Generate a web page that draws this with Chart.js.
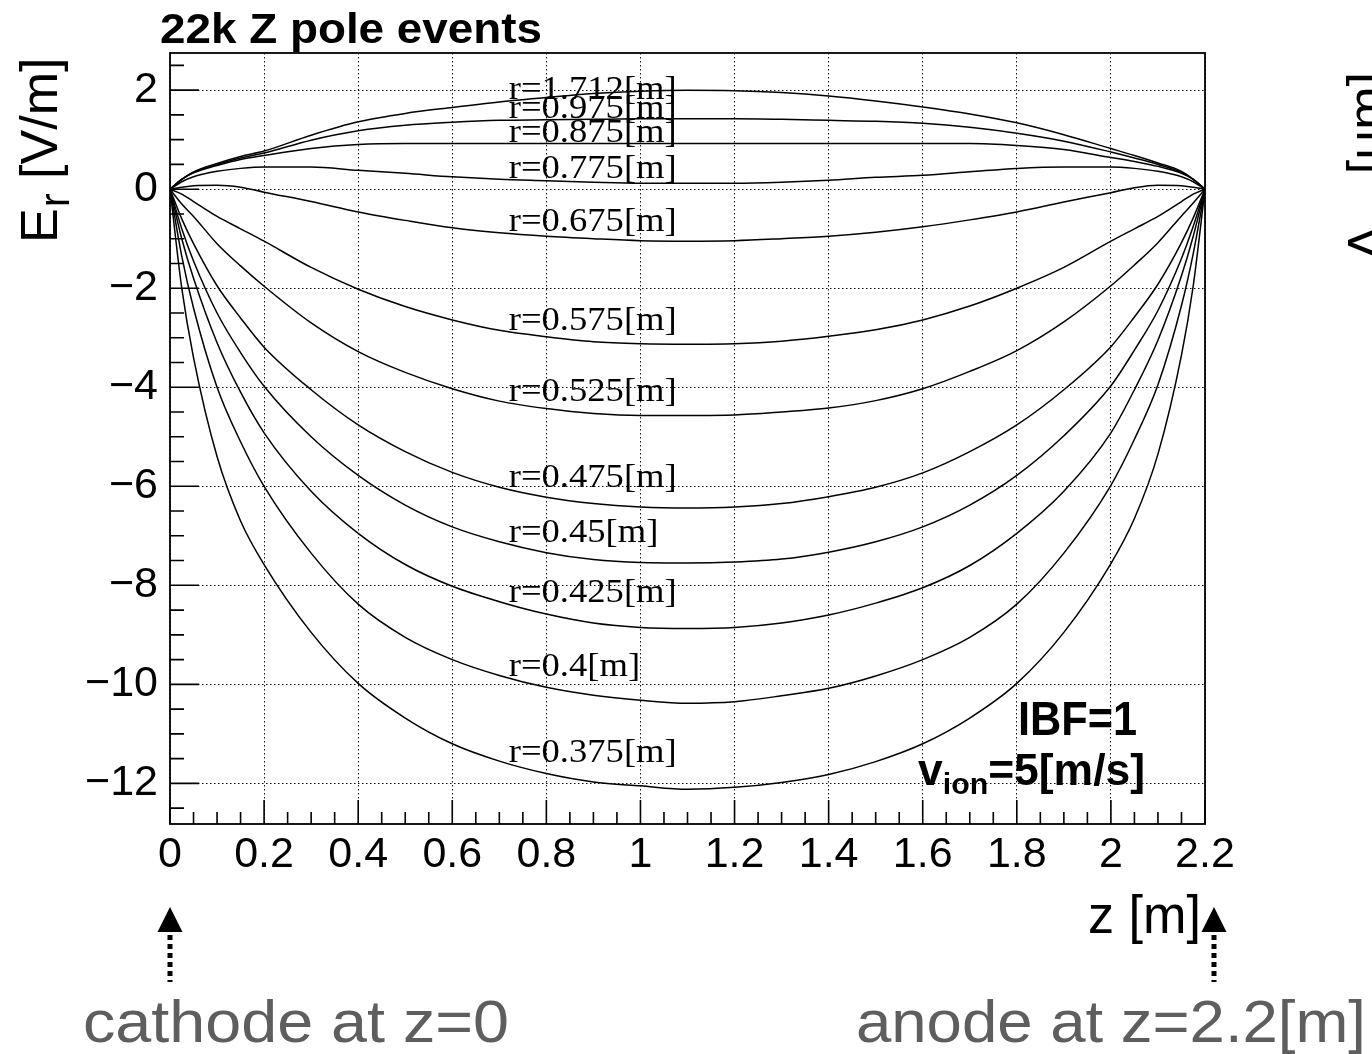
<!DOCTYPE html>
<html><head><meta charset="utf-8">
<script src="https://cdn.jsdelivr.net/npm/chart.js@4.4.0/dist/chart.umd.min.js"></script>
<style>html,body{margin:0;padding:0;background:#fff;} #wrap{width:1372px;height:1054px;position:relative;overflow:hidden;}</style>
</head><body><div id="wrap"><canvas id="c" width="1372" height="1054"></canvas></div>
<script>
// ---- data ----
const zValues = [0,0.025,0.05,0.1,0.15,0.2,0.3,0.4,0.5,0.6,0.7,0.8,0.9,1.0,1.1,1.2,1.3,1.4,1.5,1.6,1.7,1.8,1.9,2.0,2.05,2.1,2.15,2.175,2.2];
const seriesLabels = ['r=1.712[m]','r=0.975[m]','r=0.875[m]','r=0.775[m]','r=0.675[m]','r=0.575[m]','r=0.525[m]','r=0.475[m]','r=0.45[m]','r=0.425[m]','r=0.4[m]','r=0.375[m]'];
const er_r1712 = [0,0.2,0.35,0.52,0.66,0.77,1.09,1.36,1.53,1.65,1.76,1.85,1.93,1.98,2.0,1.99,1.95,1.88,1.78,1.66,1.52,1.34,1.1,0.82,0.68,0.53,0.36,0.2,0];
const er_r0975 = [0,0.2,0.34,0.5,0.63,0.73,0.99,1.18,1.29,1.35,1.39,1.4,1.41,1.42,1.42,1.42,1.41,1.39,1.37,1.33,1.25,1.13,0.97,0.75,0.63,0.5,0.34,0.2,0];
const er_r0875 = [0,0.2,0.33,0.48,0.6,0.68,0.82,0.9,0.92,0.92,0.92,0.92,0.92,0.92,0.92,0.92,0.92,0.92,0.92,0.92,0.92,0.88,0.8,0.64,0.56,0.46,0.32,0.2,0];
const er_r0775 = [0,0.15,0.25,0.36,0.42,0.45,0.45,0.38,0.32,0.25,0.2,0.17,0.14,0.12,0.12,0.12,0.14,0.18,0.24,0.28,0.35,0.42,0.45,0.45,0.42,0.36,0.25,0.15,0];
const er_r0675 = [0,0.04,0.07,0.08,0.04,-0.06,-0.25,-0.46,-0.63,-0.78,-0.88,-0.95,-1.0,-1.04,-1.05,-1.04,-1.0,-0.95,-0.87,-0.76,-0.62,-0.46,-0.26,-0.07,0.03,0.08,0.07,0.04,0];
const er_r0575 = [0,-0.1,-0.25,-0.55,-0.8,-1.05,-1.58,-2.02,-2.37,-2.64,-2.85,-2.98,-3.08,-3.12,-3.13,-3.12,-3.07,-2.97,-2.84,-2.64,-2.36,-2.0,-1.58,-1.05,-0.8,-0.55,-0.25,-0.1,0];
const er_r0525 = [0,-0.3,-0.55,-1.1,-1.55,-1.96,-2.7,-3.28,-3.7,-4.03,-4.28,-4.43,-4.53,-4.57,-4.57,-4.56,-4.5,-4.42,-4.27,-4.03,-3.68,-3.26,-2.68,-1.95,-1.53,-1.08,-0.54,-0.28,0];
const er_r0475 = [0,-0.6,-1.1,-1.95,-2.6,-3.19,-4.05,-4.76,-5.3,-5.72,-6.02,-6.22,-6.35,-6.42,-6.44,-6.42,-6.35,-6.21,-6.02,-5.73,-5.3,-4.76,-4.05,-3.18,-2.58,-1.92,-1.08,-0.58,0];
const er_r0450 = [0,-0.8,-1.45,-2.5,-3.3,-3.98,-5.0,-5.78,-6.38,-6.82,-7.12,-7.34,-7.48,-7.54,-7.55,-7.53,-7.47,-7.33,-7.12,-6.82,-6.38,-5.78,-4.98,-3.97,-3.25,-2.45,-1.4,-0.75,0];
const er_r0425 = [0,-1.0,-1.8,-3.1,-4.1,-4.92,-6.1,-6.95,-7.58,-8.02,-8.33,-8.58,-8.76,-8.85,-8.87,-8.85,-8.76,-8.6,-8.36,-8.05,-7.6,-6.95,-6.1,-4.92,-4.05,-3.05,-1.75,-0.95,0];
const er_r0400 = [0,-1.35,-2.4,-4.0,-5.1,-6.0,-7.35,-8.38,-9.05,-9.5,-9.82,-10.06,-10.22,-10.32,-10.38,-10.35,-10.23,-10.08,-9.83,-9.5,-9.05,-8.38,-7.35,-5.98,-5.05,-3.95,-2.35,-1.3,0];
const er_r0375 = [0,-2.0,-3.4,-5.4,-6.7,-7.58,-8.95,-9.98,-10.68,-11.2,-11.55,-11.8,-11.97,-12.05,-12.12,-12.08,-11.98,-11.82,-11.56,-11.2,-10.68,-9.98,-8.95,-7.56,-6.65,-5.35,-3.35,-1.95,0];
const xTicks = [0,0.2,0.4,0.6,0.8,1.0,1.2,1.4,1.6,1.8,2.0,2.2];
const xTickLabels = ['0','0.2','0.4','0.6','0.8','1','1.2','1.4','1.6','1.8','2','2.2'];
const yTicks = [-12,-10,-8,-6,-4,-2,0,2];
const yTickLabels = ['\u221212','\u221210','\u22128','\u22126','\u22124','\u22122','0','2'];

const seriesValues = [er_r1712,er_r0975,er_r0875,er_r0775,er_r0675,er_r0575,er_r0525,er_r0475,er_r0450,er_r0425,er_r0400,er_r0375];

// ---- helpers ----
function drawFit(ctx, text, x, y, font, color, width){
  ctx.save();
  ctx.font = font; ctx.fillStyle = color; ctx.textAlign='left'; ctx.textBaseline='alphabetic';
  const w = ctx.measureText(text).width;
  const sx = width ? width / w : 1;
  ctx.translate(x, y); ctx.scale(sx, 1);
  ctx.fillText(text, 0, 0);
  ctx.restore();
}
function valueAt(arr, z){
  for (let j=0;j<zValues.length-1;j++){
    if (z>=zValues[j] && z<=zValues[j+1]){
      const t=(z-zValues[j])/(zValues[j+1]-zValues[j]);
      return arr[j]+t*(arr[j+1]-arr[j]);
    }
  }
  return arr[arr.length-1];
}

const SANS='"Liberation Sans", Arial, Helvetica, sans-serif';
const SERIF='"Liberation Serif", "Times New Roman", serif';

const framePlugin = {
  id:'frame',
  afterDatasetsDraw(chart){
    const ctx=chart.ctx, a=chart.chartArea, xs=chart.scales.x, ys=chart.scales.y;
    ctx.save();
    ctx.strokeStyle='#000'; ctx.lineWidth=1.6; ctx.setLineDash([]);
    ctx.beginPath();
    for (let i=0;i<xTicks.length;i++){
      const px=xs.getPixelForValue(xTicks[i]);
      ctx.moveTo(px,a.bottom); ctx.lineTo(px,a.bottom-24);
      if (i<xTicks.length-1){
        for (let k=1;k<4;k++){
          const v=xTicks[i]+(xTicks[i+1]-xTicks[i])*k/4;
          const p=xs.getPixelForValue(v);
          ctx.moveTo(p,a.bottom); ctx.lineTo(p,a.bottom-12);
        }
      }
    }
    const step=(yTicks[1]-yTicks[0])/4;
    for (let v=yTicks[0]-step*2; v<=yTicks[yTicks.length-1]+step*2+1e-9; v+=step){
      if (v<ys.min || v>ys.max) continue;
      const py=ys.getPixelForValue(v);
      const major = yTicks.some(t=>Math.abs(t-v)<1e-6);
      ctx.moveTo(a.left,py); ctx.lineTo(a.left+(major?29:14),py);
    }
    ctx.stroke();
    ctx.lineWidth=1.8;
    ctx.strokeRect(a.left,a.top,a.right-a.left,a.bottom-a.top);
    ctx.restore();
  }
};

const textPlugin = {
  id:'texts',
  afterDraw(chart){
    const ctx=chart.ctx, xs=chart.scales.x, ys=chart.scales.y;
    drawFit(ctx,'22k Z pole events',160,43,'bold 42px '+SANS,'#000',382);
    ctx.save();
    ctx.font='34px '+SERIF;
    const f=168/ctx.measureText('r=0.575[m]').width;
    ctx.restore();
    const labelZ=0.72;
    seriesValues.forEach((arr,i)=>{
      const px=xs.getPixelForValue(labelZ);
      const py=ys.getPixelForValue(valueAt(arr,labelZ))-2;
      ctx.save(); ctx.font='34px '+SERIF;
      const w=ctx.measureText(seriesLabels[i]).width;
      ctx.restore();
      drawFit(ctx,seriesLabels[i],px,py,'34px '+SERIF,'#000',w*f);
    });
    // y axis title  E_r [V/m]
    ctx.save();
    ctx.fillStyle='#000'; ctx.textBaseline='alphabetic'; ctx.textAlign='left';
    ctx.translate(57,243); ctx.rotate(-Math.PI/2);
    ctx.font='52px '+SANS; ctx.fillText('E',0,0); let w=ctx.measureText('E').width;
    ctx.font='42px '+SANS; ctx.fillText('r',w+1,12); w+=ctx.measureText('r').width+1;
    ctx.font='52px '+SANS; ctx.fillText(' [V/m]',w,0);
    ctx.restore();
    drawFit(ctx,'z [m]',1088,933,'54px '+SANS,'#000',113);
    drawFit(ctx,'IBF=1',1018,735,'bold 48px '+SANS,'#000',119);
    ctx.save();
    ctx.fillStyle='#000'; ctx.textBaseline='alphabetic';
    ctx.font='bold 44px '+SANS; const w1=ctx.measureText('v').width;
    ctx.font='bold 30px '+SANS; const w2=ctx.measureText('ion').width;
    ctx.font='bold 44px '+SANS; const w3=ctx.measureText('=5[m/s]').width;
    const sc=227/(w1+w2+w3);
    ctx.translate(918,785); ctx.scale(sc,1);
    ctx.font='bold 44px '+SANS; ctx.fillText('v',0,0);
    ctx.font='bold 30px '+SANS; ctx.fillText('ion',w1,9);
    ctx.font='bold 44px '+SANS; ctx.fillText('=5[m/s]',w1+w2,0);
    ctx.restore();
    const ax=[xs.getPixelForValue(xTicks[0]), xs.getPixelForValue(xTicks[xTicks.length-1])+9];
    ctx.save();
    ax.forEach(x=>{
      ctx.fillStyle='#000';
      ctx.beginPath(); ctx.moveTo(x,907); ctx.lineTo(x-12.5,932); ctx.lineTo(x+12.5,932); ctx.closePath(); ctx.fill();
      ctx.strokeStyle='#000'; ctx.lineWidth=5; ctx.setLineDash([5,4]);
      ctx.beginPath(); ctx.moveTo(x,935); ctx.lineTo(x,982); ctx.stroke();
    });
    ctx.restore();
    drawFit(ctx,'cathode at z=0',83,1042,'60px '+SANS,'#5e5e5e',426);
    drawFit(ctx,'anode at z=2.2[m]',856,1042,'60px '+SANS,'#5e5e5e',510);
    ctx.save();
    ctx.fillStyle='#000'; ctx.textBaseline='alphabetic';
    ctx.translate(1384,0); ctx.rotate(-Math.PI/2);
    ctx.font='52px '+SANS;
    ctx.textAlign='center'; ctx.fillText('\u0394',-243,0);
    ctx.textAlign='right'; ctx.fillText('[\u03bcm]',-72,0);
    ctx.restore();
  }
};

new Chart(document.getElementById('c').getContext('2d'), {
  type:'line',
  data:{datasets: seriesValues.map((arr,i)=>({
    label: seriesLabels[i],
    data: arr.map((v,j)=>({x:zValues[j], y:v})),
    borderColor:'#000', borderWidth:1.5, pointRadius:0, fill:false,
    cubicInterpolationMode:'monotone'
  }))},
  options:{
    responsive:false, animation:false, devicePixelRatio:1,
    layout:{padding:{top:53,left:0,right:167,bottom:0}},
    plugins:{legend:{display:false}, title:{display:false}, tooltip:{enabled:false}},
    scales:{
      x:{type:'linear', min:0, max:2.2,
        afterBuildTicks:s=>{ s.ticks=xTicks.map(v=>({value:v})); },
        afterFit:s=>{ s.height=230; },
        ticks:{callback:(v,i)=>xTickLabels[i], font:{family:SANS,size:43}, color:'#000', padding:5, maxRotation:0, minRotation:0, autoSkip:false},
        grid:{color:'#111', lineWidth:1, drawTicks:false},
        border:{display:false, dash:[1.5,2.5]}},
      y:{type:'linear', min:-12.82, max:2.75,
        afterBuildTicks:s=>{ s.ticks=yTicks.map(v=>({value:v})); },
        afterFit:s=>{ s.width=170; },
        ticks:{callback:(v,i)=>yTickLabels[i], font:{family:SANS,size:43}, color:'#000', padding:12, autoSkip:false},
        grid:{color:'#111', lineWidth:1, drawTicks:false},
        border:{display:false, dash:[1.5,2.5]}}
    }
  },
  plugins:[framePlugin, textPlugin]
});
</script></body></html>
